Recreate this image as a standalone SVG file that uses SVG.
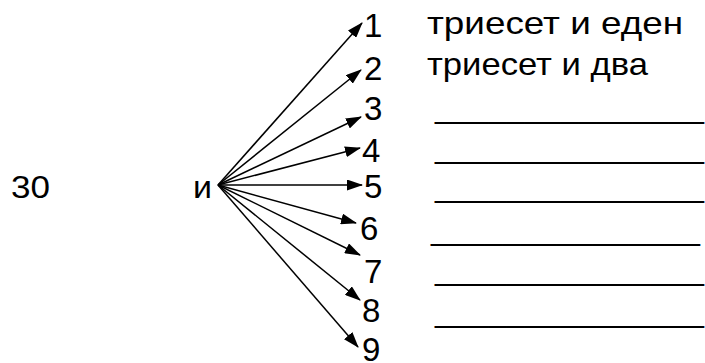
<svg xmlns="http://www.w3.org/2000/svg" width="705" height="363" viewBox="0 0 705 363">
<style>
  .t { font-family: "Liberation Sans", Arial, sans-serif; fill: #000; }
  .n { font-size: 33px; }
  .w { font-size: 32px; }
  .u { font-size: 32px; }
  .c line { stroke: #000; stroke-width: 1.5; fill: none; marker-end: url(#ah); }
</style>
<defs>
  <marker id="ah" viewBox="0 0 16 11" refX="15" refY="5.5" markerWidth="16" markerHeight="11" markerUnits="userSpaceOnUse" orient="auto">
    <path d="M0,0 L16,5.5 L0,11 Z" fill="#000"/>
  </marker>
</defs>
<g id="n30"><text class="t w" x="11" y="198" textLength="39" lengthAdjust="spacingAndGlyphs">30</text></g>
<g id="nI"><text class="t w" x="193" y="198" textLength="19" lengthAdjust="spacingAndGlyphs">и</text></g>
<g class="c" id="connectors">
  <line x1="218" y1="185" x2="362" y2="23"/>
  <line x1="218" y1="185" x2="361" y2="70"/>
  <line x1="218" y1="185" x2="361" y2="117"/>
  <line x1="218" y1="185" x2="360" y2="148"/>
  <line x1="218" y1="185" x2="362" y2="185"/>
  <line x1="218" y1="185" x2="356" y2="223"/>
  <line x1="218" y1="185" x2="360" y2="255"/>
  <line x1="218" y1="185" x2="360" y2="300"/>
  <line x1="218" y1="185" x2="358" y2="347"/>
</g>
<g id="d1"><text class="t n" x="364" y="37">1</text></g>
<g id="d2"><text class="t n" x="364" y="80">2</text></g>
<g id="d3"><text class="t n" x="364" y="120">3</text></g>
<g id="d4"><text class="t n" x="362" y="162">4</text></g>
<g id="d5"><text class="t n" x="364" y="198">5</text></g>
<g id="d6"><text class="t n" x="360" y="240">6</text></g>
<g id="d7"><text class="t n" x="364" y="283">7</text></g>
<g id="d8"><text class="t n" x="362" y="322">8</text></g>
<g id="d9"><text class="t n" x="362" y="361">9</text></g>
<g id="w1"><text class="t w" x="427" y="34" textLength="256" lengthAdjust="spacingAndGlyphs">триесет и еден</text></g>
<g id="w2"><text class="t w" x="427" y="75" textLength="221" lengthAdjust="spacingAndGlyphs">триесет и два</text></g>
<g id="blanks">
  <text class="t u" x="435" y="118" textLength="269" lengthAdjust="spacingAndGlyphs">_______________</text>
  <text class="t u" x="435" y="158" textLength="269" lengthAdjust="spacingAndGlyphs">_______________</text>
  <text class="t u" x="435" y="197" textLength="269" lengthAdjust="spacingAndGlyphs">_______________</text>
  <text class="t u" x="431" y="240" textLength="269" lengthAdjust="spacingAndGlyphs">_______________</text>
  <text class="t u" x="435" y="280" textLength="269" lengthAdjust="spacingAndGlyphs">_______________</text>
  <text class="t u" x="435" y="322" textLength="269" lengthAdjust="spacingAndGlyphs">_______________</text>
</g>
</svg>
